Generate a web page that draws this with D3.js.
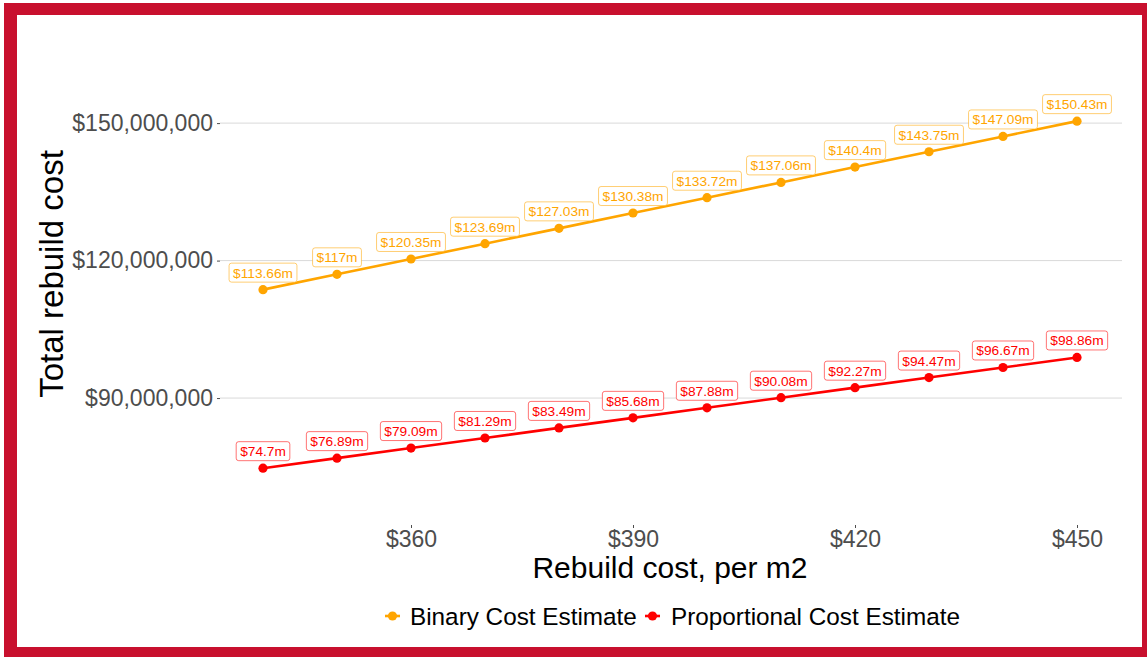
<!DOCTYPE html>
<html><head><meta charset="utf-8">
<script src="https://cdn.jsdelivr.net/npm/d3@7"></script>
<style>body{margin:0;padding:0;background:#fff}svg{display:block}text{font-family:"Liberation Sans",Arial,sans-serif}</style>
</head><body>
<svg id="c" width="1147" height="657"></svg>
<script>
const rebuildCost = [340, 350, 360, 370, 380, 390, 400, 410, 420, 430, 440, 450];
const binaryValues = [113.66, 117, 120.35, 123.69, 127.03, 130.38, 133.72, 137.06, 140.4, 143.75, 147.09, 150.43];
const proportionalValues = [74.7, 76.89, 79.09, 81.29, 83.49, 85.68, 87.88, 90.08, 92.27, 94.47, 96.67, 98.86];
const xTicks = [360, 390, 420, 450];
const yTicks = [90000000, 120000000, 150000000];
const seriesNames = ["Binary Cost Estimate", "Proportional Cost Estimate"];
const seriesColors = ["#FFA500", "#FF0000"];

const svg = d3.select("#c");
svg.append("rect").attr("x",4).attr("y",3).attr("width",1143).attr("height",654).attr("fill","#C8102E");
svg.append("rect").attr("x",17).attr("y",15).attr("width",1125).attr("height",632).attr("fill","#fff");

const x = d3.scaleLinear().domain([334.5, 455.5]).range([222.3, 1117.7]);
const y = d3.scaleLinear().domain([62.3e6, 154.3e6]).range([525, 103.4]);
const left = 220, right = 1122, bottom = 525;

// gridlines
svg.append("g").selectAll("line").data(yTicks).join("line")
  .attr("x1", left).attr("x2", right)
  .attr("y1", d=>y(d)).attr("y2", d=>y(d))
  .attr("stroke","#d9d9d9").attr("stroke-width",1);

const fmtY = d => "$" + d3.format(",")(d);
const yAxis = svg.append("g").attr("transform",`translate(${left},0)`)
  .call(d3.axisLeft(y).tickValues(yTicks).tickFormat(fmtY).tickSize(3).tickPadding(4));
yAxis.select(".domain").remove();
yAxis.selectAll("line").attr("stroke","#4d4d4d");
yAxis.selectAll("text").attr("fill","#4d4d4d").attr("font-size","23px").attr("font-family","Liberation Sans, Arial, sans-serif");

const xAxis = svg.append("g").attr("transform",`translate(0,${bottom})`)
  .call(d3.axisBottom(x).tickValues(xTicks).tickFormat(d=>"$"+d).tickSize(3).tickPadding(3));
xAxis.select(".domain").remove();
xAxis.selectAll("line").attr("stroke","#4d4d4d");
xAxis.selectAll("text").attr("fill","#4d4d4d").attr("font-size","23px").attr("font-family","Liberation Sans, Arial, sans-serif");

svg.append("text").attr("x",670).attr("y",578).attr("text-anchor","middle")
  .attr("font-size","30px").attr("fill","#000").text("Rebuild cost, per m2");
svg.append("text").attr("transform","translate(63,274) rotate(-90)").attr("text-anchor","middle")
  .attr("font-size","33px").attr("fill","#000").text("Total rebuild cost");

const series = [binaryValues, proportionalValues].map((vals,i)=>({
  name: seriesNames[i], color: seriesColors[i],
  pts: rebuildCost.map((c,j)=>({x:c, v:vals[j]*1e6, label:"$"+vals[j]+"m"}))
}));

const line = d3.line().x(d=>x(d.x)).y(d=>y(d.v));
series.forEach(s=>{
  const g = svg.append("g");
  g.append("path").datum(s.pts).attr("d",line).attr("fill","none")
    .attr("stroke",s.color).attr("stroke-width",2.6);
  g.selectAll("circle").data(s.pts).join("circle")
    .attr("cx",d=>x(d.x)).attr("cy",d=>y(d.v)).attr("r",4.6).attr("fill",s.color);
  const lg = g.selectAll("g.lab").data(s.pts).join("g").attr("class","lab")
    .attr("transform",d=>`translate(${x(d.x)},${y(d.v)-17})`);
  lg.append("text").attr("text-anchor","middle").attr("dy","0.36em")
    .attr("font-size","13.7px").attr("fill",s.color).text(d=>d.label);
  lg.each(function(){
    const t = d3.select(this).select("text").node();
    const bb = t.getBBox();
    d3.select(this).insert("rect","text")
      .attr("x",bb.x-4).attr("y",-9.5).attr("width",bb.width+8).attr("height",19)
      .attr("rx",2.5).attr("fill","#fff").attr("stroke",s.color).attr("stroke-opacity",0.55).attr("stroke-width",1);
  });
});

// legend
const legendItems = [{x:385, tx:410},{x:645, tx:671}];
series.forEach((s,i)=>{
  const lx = legendItems[i].x, ly = 616;
  svg.append("line").attr("x1",lx).attr("x2",lx+15).attr("y1",ly).attr("y2",ly)
    .attr("stroke",s.color).attr("stroke-width",2.6);
  svg.append("circle").attr("cx",lx+7.5).attr("cy",ly).attr("r",4.6).attr("fill",s.color);
  svg.append("text").attr("x",legendItems[i].tx).attr("y",ly).attr("dy","0.35em")
    .attr("font-size","24.3px").attr("fill","#000").text(s.name);
});
</script>
</body></html>
